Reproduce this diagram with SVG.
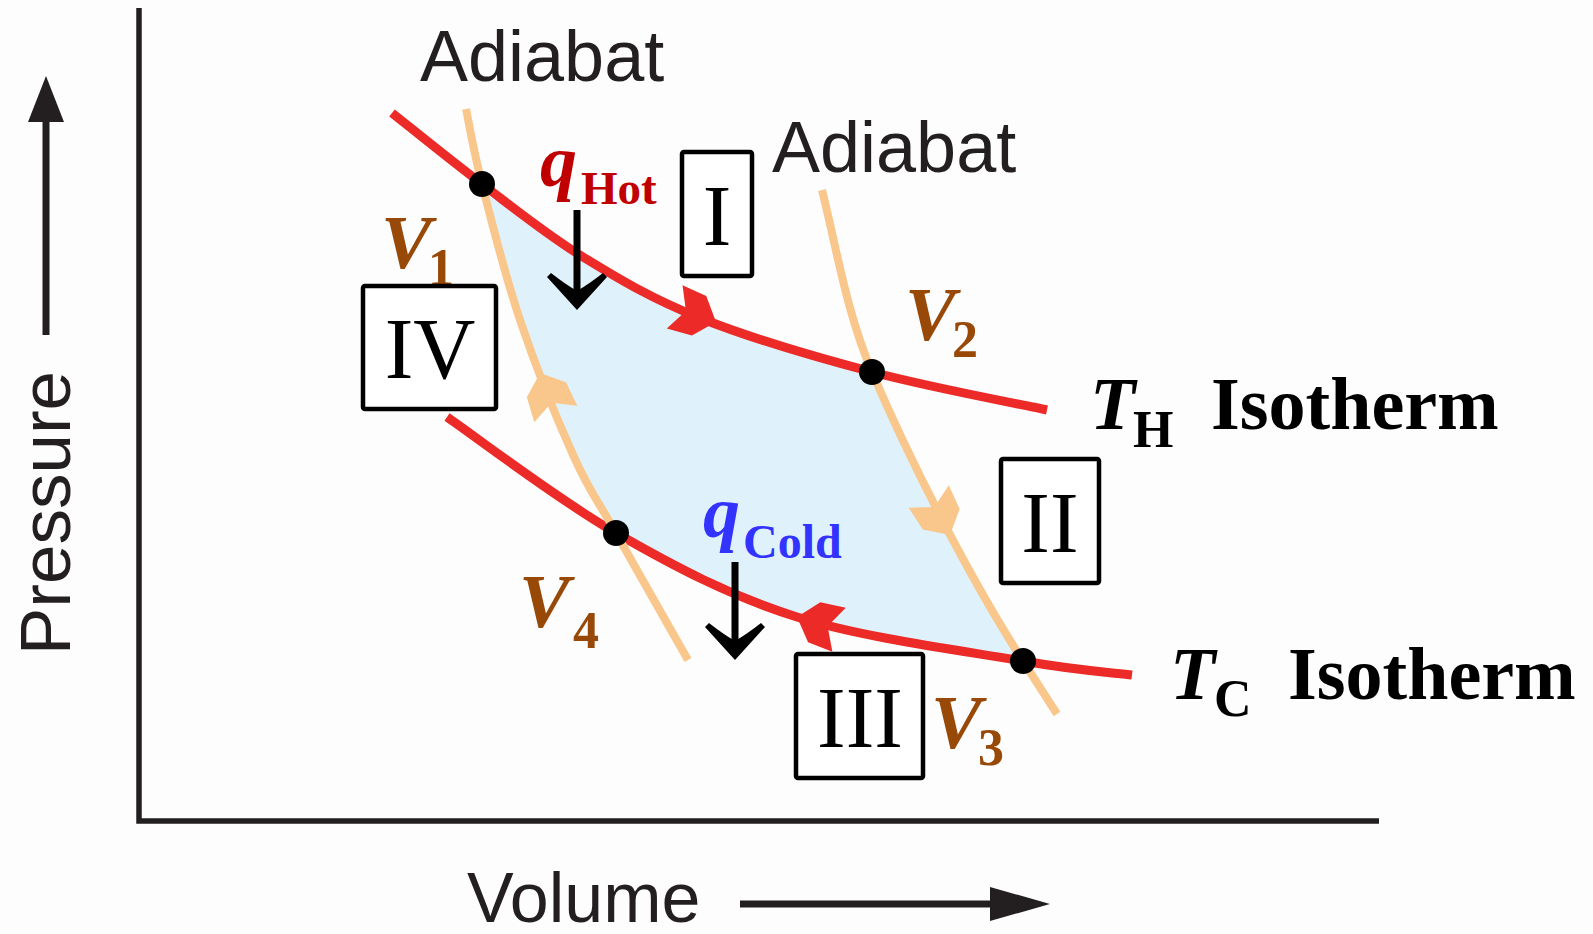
<svg xmlns="http://www.w3.org/2000/svg" xmlns:xlink="http://www.w3.org/1999/xlink" width="1593" height="934" viewBox="0 0 1593 934">
<style>
.sans{font-family:"Liberation Sans",Arial,sans-serif;fill:#231f20}
.serif{font-family:"Liberation Serif","Times New Roman",serif}
.bi{font-weight:bold;font-style:italic}
.b{font-weight:bold}
.brown{fill:#984807}
.iso{fill:none;stroke:#ec2a27;stroke-width:9}
.adi{fill:none;stroke:#f9c78b;stroke-width:8}
.box{fill:#ffffff;stroke:#000;stroke-width:4.5}
.roman{font-family:"Liberation Serif","Times New Roman",serif;font-size:86px;fill:#000;text-anchor:middle}
.axis{stroke:#231f20;stroke-width:5.5;fill:none}
</style>
<defs>
<path id="barb" d="M0,0 L-18,-21 L-44,-23 L-32,0 L-44,23 L-18,21 Z"/>
<path id="chev" d="M0,0 L-30,-33 L-26,-37 Q-12,-26 0,-19 Q12,-26 26,-37 L30,-33 Z"/>
</defs>
<rect width="1593" height="934" fill="#fdfdfd"/>

<g id="axes">
<path class="axis" d="M139,8 L139,821 L1379,821"/>
<line x1="46" y1="335" x2="46" y2="115" stroke="#231f20" stroke-width="7"/>
<polygon points="46,76 28,122 64,122" fill="#231f20"/>
<text class="sans" font-size="71" transform="translate(70,655) rotate(-90)">Pressure</text>
<line x1="740" y1="904" x2="995" y2="904" stroke="#231f20" stroke-width="7"/>
<polygon points="1050,904 990,887 990,921" fill="#231f20"/>
<text class="sans" x="467" y="922" font-size="70">Volume</text>
</g>

<g id="cycle-region">
<path fill="#dff1fb" d="M482,184 C513.8,208 546.7,234.7 583,257 C619.3,279.3 651.8,298.8 700,318 C748.2,337.2 814.2,356.7 872,372 C905.5,450.5 964.2,569.3 1023,661 C967.2,651.3 864.8,638.3 797,617 C729.2,595.7 674.3,566.3 616,533 C597,499.2 590,492.5 574,457 C558,421.5 535.3,365.5 520,320 C504.7,274.5 491,219.2 482,184 Z"/>
</g>

<g id="connectors">
<path id="isotherm-hot" class="iso" d="M392,113 C407,124.8 450.2,160 482,184 C513.8,208 546.7,234.7 583,257 C619.3,279.3 651.8,298.8 700,318 C748.2,337.2 814.2,356.7 872,372 C929.8,387.3 1017.8,403.7 1047,410"/>
<path id="isotherm-cold" class="iso" d="M447,417 C475.2,436.3 557.7,499.7 616,533 C674.3,566.3 729.2,595.7 797,617 C864.8,638.3 967.2,651.3 1023,661 C1078.8,670.7 1113.8,672.7 1132,675"/>
<path id="adiabat-1" class="adi" d="M466,109 C468.7,121.5 473,148.8 482,184 C491,219.2 504.7,274.5 520,320 C535.3,365.5 558,421.5 574,457 C590,492.5 597,499.2 616,533 C635,566.8 676,638.8 688,660"/>
<path id="adiabat-2" class="adi" d="M822,190 C837,250 846.4,312 872,372 C905.5,450.5 964.2,569.3 1023,661 C1034.3,678.7 1045.7,696.3 1057,714"/>
<use xlink:href="#barb" fill="#ec2a27" transform="translate(716,322) rotate(20)"/>
<use xlink:href="#barb" fill="#ec2a27" transform="translate(797,617) rotate(197)"/>
<use xlink:href="#barb" fill="#f9c78b" transform="translate(540,373) rotate(-111)"/>
<use xlink:href="#barb" fill="#f9c78b" transform="translate(950,535) rotate(61)"/>
<line x1="577" y1="210" x2="577" y2="295" stroke="#000" stroke-width="7"/>
<use xlink:href="#chev" fill="#000" transform="translate(577,310)"/>
<line x1="735" y1="562" x2="735" y2="645" stroke="#000" stroke-width="7"/>
<use xlink:href="#chev" fill="#000" transform="translate(735,660)"/>
</g>

<g id="state-1"><circle cx="482" cy="184" r="13" fill="#000"/></g>
<g id="state-2"><circle cx="872" cy="372" r="13" fill="#000"/></g>
<g id="state-3"><circle cx="1023" cy="661" r="13" fill="#000"/></g>
<g id="state-4"><circle cx="616" cy="533" r="13" fill="#000"/></g>

<g id="labels-adiabat">
<text class="sans" x="420" y="81" font-size="72">Adiabat</text>
<text class="sans" x="772" y="172" font-size="72">Adiabat</text>
</g>

<g id="label-v1"><text class="serif bi brown" x="381" y="268" font-size="76">V</text><text class="serif b brown" x="428" y="285" font-size="52">1</text></g>
<g id="label-v2"><text class="serif bi brown" x="905" y="340" font-size="76">V</text><text class="serif b brown" x="952" y="357" font-size="52">2</text></g>
<g id="label-v3"><text class="serif bi brown" x="931" y="748" font-size="76">V</text><text class="serif b brown" x="978" y="765" font-size="52">3</text></g>
<g id="label-v4"><text class="serif bi brown" x="519" y="627" font-size="76">V</text><text class="serif b brown" x="573" y="648" font-size="52">4</text></g>

<g id="label-qhot"><text class="serif bi" x="540" y="186" font-size="74" fill="#c00000">q</text><text class="serif b" x="581" y="204" font-size="47" fill="#c00000">Hot</text></g>
<g id="label-qcold"><text class="serif bi" x="703" y="537" font-size="74" fill="#3333ff">q</text><text class="serif b" x="743" y="558" font-size="48" fill="#3333ff">Cold</text></g>

<g id="label-th"><text class="serif bi" x="1090" y="429" font-size="74" fill="#000">T</text><text class="serif b" x="1133" y="447" font-size="52" fill="#000">H</text><text class="serif b" x="1211" y="429" font-size="74" fill="#000">Isotherm</text></g>
<g id="label-tc"><text class="serif bi" x="1170" y="699" font-size="74" fill="#000">T</text><text class="serif b" x="1214" y="716" font-size="52" fill="#000">C</text><text class="serif b" x="1288" y="699" font-size="74" fill="#000">Isotherm</text></g>

<g id="step-I"><rect class="box" x="682" y="152" width="70" height="124" rx="2"/><text class="roman" x="717" y="245">I</text></g>
<g id="step-II"><rect class="box" x="1001" y="459" width="98" height="124" rx="2"/><text class="roman" x="1050" y="552">II</text></g>
<g id="step-III"><rect class="box" x="796" y="654" width="127" height="124" rx="2"/><text class="roman" x="860" y="747">III</text></g>
<g id="step-IV"><rect class="box" x="363" y="286" width="133" height="123" rx="2"/><text class="roman" x="430" y="378">IV</text></g>
</svg>
